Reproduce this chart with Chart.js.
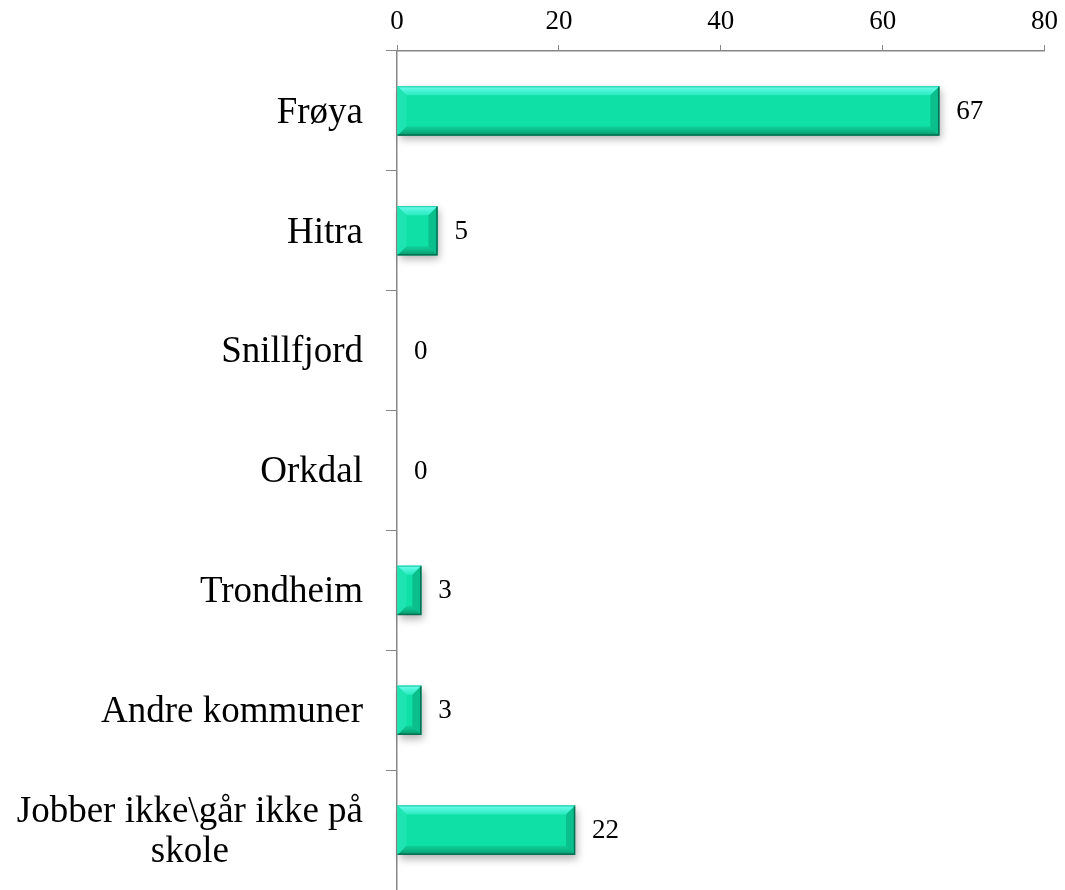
<!DOCTYPE html>
<html>
<head>
<meta charset="utf-8">
<script src="https://cdn.jsdelivr.net/npm/chart.js@4.4.0/dist/chart.umd.min.js"></script>
<style>
  html, body { margin: 0; padding: 0; background: #fff; }
  #wrap { width: 1065px; height: 890px; position: relative; }
</style>
</head>
<body>
<div id="wrap"><canvas id="chart"></canvas></div>
<script>
// data
const categories = ['Frøya', 'Hitra', 'Snillfjord', 'Orkdal', 'Trondheim', 'Andre kommuner', ['Jobber ikke\\går ikke på', 'skole']];
const values = [67, 5, 0, 0, 3, 3, 22];
const xMin = 0;
const xMax = 80;
const xStep = 20;

const SERIF = "'Liberation Serif', 'Times New Roman', serif";
const AXIS_GREY = '#878787';

// soft drop shadow under each bar
const barShadow = {
  id: 'barShadow',
  beforeDatasetsDraw(chart) {
    const ctx = chart.ctx;
    chart.getDatasetMeta(0).data.forEach((bar) => {
      const { x, y, base, height } = bar.getProps(['x', 'y', 'base', 'height'], true);
      const w = x - base;
      if (w < 1) return;
      ctx.save();
      ctx.shadowColor = 'rgba(0,0,0,0.3)';
      ctx.shadowBlur = 8;
      ctx.shadowOffsetX = 2;
      ctx.shadowOffsetY = 4;
      ctx.fillStyle = '#0fe0a6';
      ctx.fillRect(base, y - height / 2, w, height);
      ctx.restore();
    });
  },
};

// bevelled edges + value labels
const barBevel = {
  id: 'barBevel',
  afterDatasetsDraw(chart) {
    const ctx = chart.ctx;
    chart.getDatasetMeta(0).data.forEach((bar, i) => {
      const { x, y, base, height } = bar.getProps(['x', 'y', 'base', 'height'], true);
      const L = base, R = x, T = y - height / 2, B = y + height / 2;
      const w = R - L;
      if (w >= 1) {
        const b = Math.min(9, w / 2.6);
        ctx.save();
        // top
        let g = ctx.createLinearGradient(0, T, 0, T + b);
        g.addColorStop(0, 'rgba(120,255,245,0.95)');
        g.addColorStop(1, 'rgba(70,245,215,0.5)');
        ctx.fillStyle = g;
        ctx.beginPath();
        ctx.moveTo(L, T); ctx.lineTo(R, T); ctx.lineTo(R - b, T + b); ctx.lineTo(L + b, T + b); ctx.closePath();
        ctx.fill();
        // bottom
        g = ctx.createLinearGradient(0, B - b, 0, B);
        g.addColorStop(0, 'rgba(10,170,120,0.3)');
        g.addColorStop(1, 'rgba(5,120,85,0.75)');
        ctx.fillStyle = g;
        ctx.beginPath();
        ctx.moveTo(L, B); ctx.lineTo(R, B); ctx.lineTo(R - b, B - b); ctx.lineTo(L + b, B - b); ctx.closePath();
        ctx.fill();
        // right
        ctx.fillStyle = 'rgba(5,130,95,0.35)';
        ctx.beginPath();
        ctx.moveTo(R, T); ctx.lineTo(R, B); ctx.lineTo(R - b, B - b); ctx.lineTo(R - b, T + b); ctx.closePath();
        ctx.fill();
        // left
        ctx.fillStyle = 'rgba(60,235,200,0.35)';
        ctx.beginPath();
        ctx.moveTo(L, T); ctx.lineTo(L, B); ctx.lineTo(L + b, B - b); ctx.lineTo(L + b, T + b); ctx.closePath();
        ctx.fill();
        // dark outer edge bottom/right
        ctx.strokeStyle = '#0a6e52';
        ctx.lineWidth = 1.5;
        ctx.beginPath();
        ctx.moveTo(L, B - 0.5); ctx.lineTo(R - 0.5, B - 0.5); ctx.lineTo(R - 0.5, T);
        ctx.stroke();
        ctx.strokeStyle = 'rgba(20,200,160,0.9)';
        ctx.lineWidth = 1;
        ctx.beginPath();
        ctx.moveTo(L, T + 0.5); ctx.lineTo(R, T + 0.5);
        ctx.stroke();
        ctx.restore();
      }
      // value label
      ctx.save();
      ctx.font = '27px ' + SERIF;
      ctx.fillStyle = '#000';
      ctx.textAlign = 'left';
      ctx.textBaseline = 'middle';
      ctx.fillText(String(values[i]), R + 17, y + 1);
      ctx.restore();
    });
  },
};

// category labels: block right aligned, lines centred inside the block
const categoryLabels = {
  id: 'categoryLabels',
  afterDraw(chart) {
    const ctx = chart.ctx;
    const yScale = chart.scales.y;
    const rightEdge = yScale.right - 34;
    const lineH = 40;
    ctx.save();
    ctx.font = '37px ' + SERIF;
    ctx.fillStyle = '#000';
    ctx.textAlign = 'center';
    ctx.textBaseline = 'middle';
    categories.forEach((label, i) => {
      const lines = Array.isArray(label) ? label : [label];
      const blockW = Math.max(...lines.map((l) => ctx.measureText(l).width));
      const cx = rightEdge - blockW / 2;
      const cy = yScale.getPixelForValue(i);
      lines.forEach((line, j) => {
        ctx.fillText(line, cx, cy + (j - (lines.length - 1) / 2) * lineH + 2);
      });
    });
    ctx.restore();
  },
};

new Chart(document.getElementById('chart'), {
  type: 'bar',
  data: {
    labels: categories,
    datasets: [{
      data: values,
      backgroundColor: '#0fe0a6',
      borderWidth: 0,
      barPercentage: 0.41,
      categoryPercentage: 1,
    }],
  },
  options: {
    indexAxis: 'y',
    responsive: true,
    maintainAspectRatio: false,
    animation: false,
    layout: { padding: { top: 0, right: 18, bottom: 0, left: 0 } },
    plugins: {
      legend: { display: false },
      tooltip: { enabled: false },
    },
    scales: {
      x: {
        position: 'top',
        min: xMin,
        max: xMax,
        ticks: {
          stepSize: xStep,
          color: '#000',
          font: { family: SERIF, size: 27 },
          padding: 7,
        },
        grid: { drawOnChartArea: false, tickLength: 6, color: AXIS_GREY },
        border: { color: AXIS_GREY, width: 1.5 },
        afterFit: (s) => { s.height = 51; },
      },
      y: {
        ticks: { display: false },
        grid: { drawOnChartArea: false, tickLength: 11, color: AXIS_GREY, offset: true },
        border: { color: AXIS_GREY, width: 1.5 },
        afterFit: (s) => { s.width = 397; },
      },
    },
  },
  plugins: [barShadow, barBevel, categoryLabels],
});
</script>
</body>
</html>
